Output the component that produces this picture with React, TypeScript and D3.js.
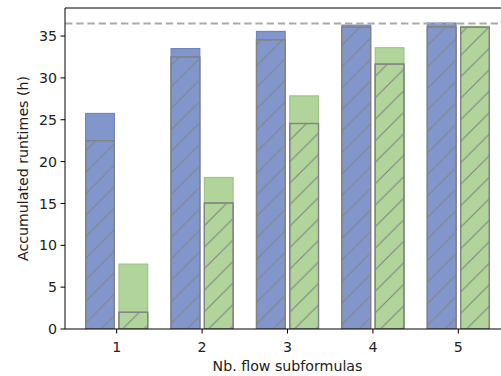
import React from "react";
import * as d3 from "d3";

const categories = [1, 2, 3, 4, 5];
const blueTotal = [25.75, 33.5, 35.55, 36.3, 36.55];
const blueHatched = [22.5, 32.5, 34.55, 36.05, 36.1];
const greenTotal = [7.75, 18.1, 27.85, 33.6, 36.15];
const greenHatched = [2.0, 15.05, 24.55, 31.65, 36.05];
const yTicks = [0, 5, 10, 15, 20, 25, 30, 35];
const threshold = 36.5;

const W = 501, H = 376;
const left = 65, top = 8, bottom = 329, right = 510;

export default function App() {
  const x = d3.scaleLinear().domain([0.395, 5.605]).range([left, right]);
  const y = d3.scaleLinear().domain([0, 38.35]).range([bottom, top]);
  const bw = x(0.336) - x(0);
  const off = 0.195;
  const font = "DejaVu Sans, sans-serif";
  const fs = 14.2;

  const series = [
    { total: blueTotal, hatched: blueHatched, fill: "#8197cc", edge: "#6e85c0", dx: -off },
    { total: greenTotal, hatched: greenHatched, fill: "#b1d49b", edge: "#9dc487", dx: off },
  ];
  const hs = 21.5;

  return (
    <svg width={W} height={H} style={{ position: "absolute", left: 0, top: 0 }} xmlns="http://www.w3.org/2000/svg">
      <defs>
        <pattern id="hatch" patternUnits="userSpaceOnUse" width={hs} height={hs}>
          <path d={`M-2,2 L2,-2 M0,${hs} L${hs},0 M${hs - 2},${hs + 2} L${hs + 2},${hs - 2}`} stroke="#838383" strokeWidth={1.1} />
        </pattern>
        <clipPath id="plot"><rect x={left} y={top} width={right - left} height={bottom - top} /></clipPath>
      </defs>
      <rect x={0} y={0} width={W} height={H} fill="white" />
      <g clipPath="url(#plot)">
        {series.map((s, si) =>
          categories.map((c, i) => {
            const x0 = x(c + s.dx) - bw / 2;
            return (
              <g key={`${si}-${i}`}>
                <rect x={x0} y={y(s.total[i])} width={bw} height={y(0) - y(s.total[i])} fill={s.fill} stroke={s.edge} strokeWidth={1.2} />
                <rect x={x0} y={y(s.hatched[i])} width={bw} height={y(0) - y(s.hatched[i])} fill={s.fill} stroke="#838383" strokeWidth={1.2} />
                <rect x={x0} y={y(s.hatched[i])} width={bw} height={y(0) - y(s.hatched[i])} fill="url(#hatch)" stroke="#838383" strokeWidth={1.2} />
              </g>
            );
          })
        )}
        <line x1={left} x2={right} y1={y(threshold)} y2={y(threshold)} stroke="#aaaaaa" strokeWidth={2} strokeDasharray="7.4,3.8" />
      </g>
      {/* spines */}
      <line x1={left} x2={left} y1={top} y2={bottom} stroke="black" strokeWidth={1} />
      <line x1={left} x2={W} y1={top} y2={top} stroke="black" strokeWidth={1} />
      <line x1={left} x2={W} y1={bottom} y2={bottom} stroke="black" strokeWidth={1} />
      {yTicks.map((t) => (
        <g key={t}>
          <line x1={left - 4.5} x2={left} y1={y(t)} y2={y(t)} stroke="black" strokeWidth={1} />
          <text x={left - 8} y={y(t)} dy="0.36em" textAnchor="end" fontFamily={font} fontSize={fs} fill="#222">{t}</text>
        </g>
      ))}
      {categories.map((c) => (
        <g key={c}>
          <line x1={x(c)} x2={x(c)} y1={bottom} y2={bottom + 4.5} stroke="black" strokeWidth={1} />
          <text x={x(c)} y={bottom + 17.5} dy="0.36em" textAnchor="middle" fontFamily={font} fontSize={fs} fill="#222">{c}</text>
        </g>
      ))}
      <text x={(left + right) / 2} y={366} dy="0.36em" textAnchor="middle" fontFamily={font} fontSize={fs} fill="#222">Nb. flow subformulas</text>
      <text transform={`translate(22.5,${(top + bottom) / 2}) rotate(-90)`} dy="0.36em" textAnchor="middle" fontFamily={font} fontSize={fs} fill="#222">Accumulated runtimes (h)</text>
    </svg>
  );
}
